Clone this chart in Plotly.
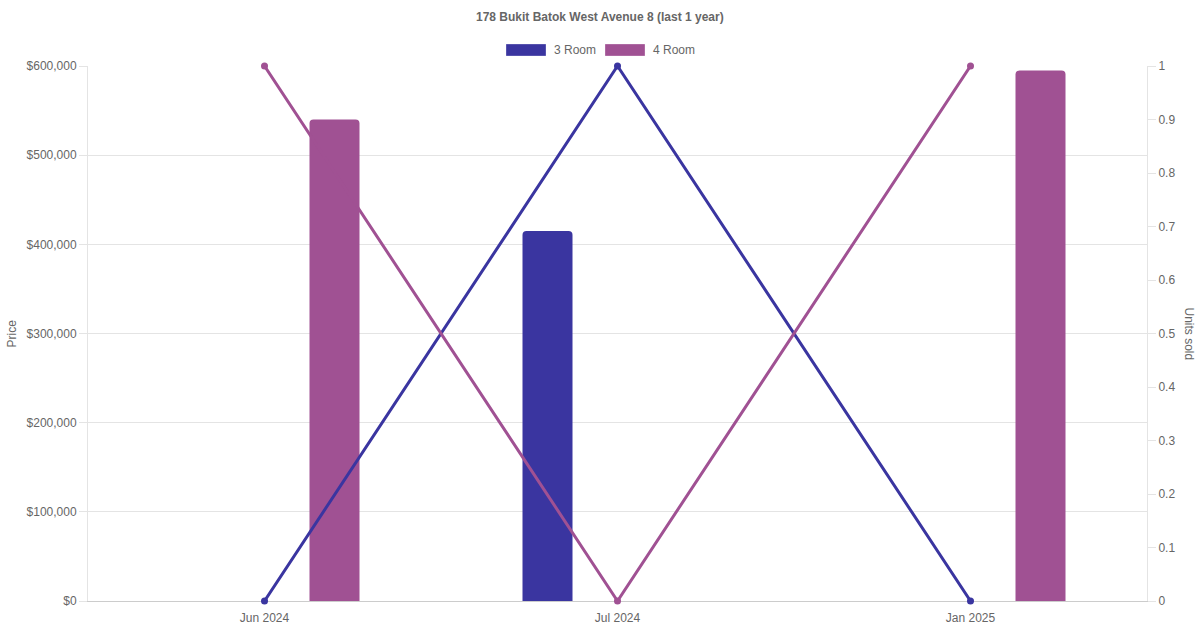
import plotly.graph_objects as go

# data
MONTHS = ["Jun 2024", "Jul 2024", "Jan 2025"]
PRICE_3ROOM = [None, 415000, None]
PRICE_4ROOM = [540000, None, 595000]
UNITS_3ROOM = [0, 1, 0]
UNITS_4ROOM = [1, 0, 1]

C3 = "#3a35a0"
C4 = "#a05193"
GRID = "#e4e4e4"
TEXT = "#666666"
FONT = "Liberation Sans, Arial, sans-serif"

# bar slot geometry in category units (category = 353px wide)
BAR_W = 50 / 353
OFF_3 = -95 / 353
OFF_4 = 45 / 353

fig = go.Figure()
fig.add_trace(go.Bar(
    x=MONTHS, y=PRICE_3ROOM, name="3 Room",
    marker=dict(color=C3, line=dict(width=0), cornerradius=4),
    width=BAR_W, offset=OFF_3, showlegend=False,
))
fig.add_trace(go.Bar(
    x=MONTHS, y=PRICE_4ROOM, name="4 Room",
    marker=dict(color=C4, line=dict(width=0), cornerradius=4),
    width=BAR_W, offset=OFF_4, showlegend=False,
))
fig.add_trace(go.Scatter(
    x=MONTHS, y=UNITS_3ROOM, name="3 Room", yaxis="y2",
    mode="lines+markers", line=dict(color=C3, width=3),
    marker=dict(color=C3, size=7), cliponaxis=False, showlegend=False,
))
fig.add_trace(go.Scatter(
    x=MONTHS, y=UNITS_4ROOM, name="4 Room", yaxis="y2",
    mode="lines+markers", line=dict(color=C4, width=3),
    marker=dict(color=C4, size=7), cliponaxis=False, showlegend=False,
))


def px_x(px):
    return (px - 88) / 1059


def px_y(py):
    return (601 - py) / 535


# chart.js-style legend boxes
legend_items = [("3 Room", C3, 506), ("4 Room", C4, 605)]
shapes = []
annotations = []
for label, color, x0 in legend_items:
    shapes.append(dict(
        type="rect", xref="paper", yref="paper",
        x0=px_x(x0), x1=px_x(x0 + 40), y0=px_y(56), y1=px_y(44),
        fillcolor=color, line=dict(width=0.5, color="rgba(255,255,255,0.6)"),
    ))
    annotations.append(dict(
        text=label, xref="paper", yref="paper",
        x=px_x(x0 + 46), y=px_y(50),
        xanchor="left", yanchor="middle", showarrow=False,
        font=dict(size=12, color=TEXT, family=FONT),
    ))

annotations.append(dict(
    text="<b>178 Bukit Batok West Avenue 8 (last 1 year)</b>",
    xref="paper", yref="paper", x=px_x(600), y=px_y(17),
    xanchor="center", yanchor="middle", showarrow=False,
    font=dict(size=12, color=TEXT, family=FONT),
))
annotations.append(dict(
    text="Price", xref="paper", yref="paper",
    x=px_x(11), y=0.5, textangle=-90,
    xanchor="center", yanchor="middle", showarrow=False,
    font=dict(size=12, color=TEXT, family=FONT),
))
annotations.append(dict(
    text="Units sold", xref="paper", yref="paper",
    x=px_x(1189), y=0.5, textangle=90,
    xanchor="center", yanchor="middle", showarrow=False,
    font=dict(size=12, color=TEXT, family=FONT),
))

fig.update_layout(
    width=1200, height=630,
    margin=dict(l=88, r=53, t=66, b=29),
    paper_bgcolor="white", plot_bgcolor="white",
    font=dict(family=FONT, size=12, color=TEXT),
    barmode="overlay",
    showlegend=False,
    shapes=shapes,
    annotations=annotations,
    xaxis=dict(
        type="category", range=[-0.5, 2.5], automargin=False,
        showgrid=False, showline=True, linecolor="#cccccc", linewidth=1,
        ticks="", ticklabelstandoff=6, zeroline=False, layer="below traces",
    ),
    yaxis=dict(
        range=[0, 600000], dtick=100000, tickprefix="$", tickformat=",",
        automargin=False,
        showgrid=True, gridcolor=GRID, gridwidth=1,
        showline=True, linecolor=GRID, linewidth=1,
        ticks="outside", ticklen=8, tickcolor=GRID, zeroline=False,
        layer="below traces",
    ),
    yaxis2=dict(
        range=[0, 1], dtick=0.1, overlaying="y", side="right",
        automargin=False,
        showgrid=False, showline=True, linecolor=GRID, linewidth=1,
        ticks="outside", ticklen=8, tickcolor=GRID, zeroline=False,
        layer="below traces",
    ),
)

# drop the default 8px page margin so the 1200x630 figure fills the window
fig.write_html(
    "out.html",
    config={"displayModeBar": False},
    post_script="document.body.style.margin='0';document.body.style.overflow='hidden';",
)
